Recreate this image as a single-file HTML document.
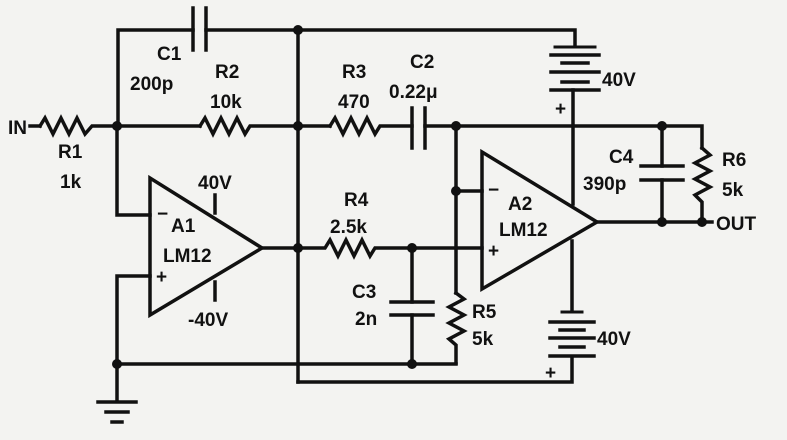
<!DOCTYPE html>
<html><head><meta charset="utf-8"><style>
html,body{margin:0;padding:0;background:#f3f3f1;}
svg{display:block}
text{font-family:"Liberation Sans",sans-serif;font-weight:bold;font-size:19px;fill:#111}
</style></head><body>
<svg width="787" height="440" viewBox="0 0 787 440" xmlns="http://www.w3.org/2000/svg">
<rect width="787" height="440" fill="#f3f3f1"/>
<g stroke="#111" stroke-width="3.5" fill="none" stroke-linejoin="miter" stroke-linecap="square">
<polyline points="118,126 118,30 193,30"/>
<line x1="193" y1="8" x2="193" y2="50"/>
<line x1="206" y1="8" x2="206" y2="50"/>
<polyline points="206,30 575,30 575,46"/>
<line x1="555" y1="47" x2="595" y2="47" stroke-width="3"/>
<line x1="551" y1="55" x2="599" y2="55"/>
<line x1="562" y1="63" x2="588" y2="63"/>
<line x1="551" y1="72" x2="599" y2="72"/>
<line x1="562" y1="82" x2="588" y2="82"/>
<line x1="551" y1="90" x2="599" y2="90"/>
<line x1="573" y1="90" x2="573" y2="204"/>
<line x1="30" y1="126" x2="40" y2="126"/>
<polyline points="40,126 45,118 53,134 61,118 69,134 77,118 85,134 92,126 118,126 200,126"/>
<polyline points="200,126 205,118 213,134 221,118 229,134 237,118 245,134 250,126 330,126"/>
<polyline points="330,126 335,118 343,134 351,118 359,134 367,118 375,134 380,126 412,126"/>
<line x1="412" y1="108" x2="412" y2="148"/>
<line x1="425" y1="108" x2="425" y2="148"/>
<polyline points="425,126 702,126 702,148"/>
<polyline points="702,148 710,155 695,163 710,171 695,179 710,187 695,195 702,202 702,222"/>
<line x1="298" y1="30" x2="298" y2="382"/>
<polyline points="298,382 572,382 572,357"/>
<polygon points="150,178 150,315 262,248"/>
<polyline points="117,126 117,215 150,215"/>
<polyline points="150,276 117,276 117,400"/>
<line x1="215" y1="195" x2="215" y2="213"/>
<line x1="215" y1="282" x2="215" y2="300"/>
<polyline points="262,248 325,248 330,240 338,256 346,240 354,256 362,240 370,256 375,248 482,248"/>
<polygon points="482,152 482,289 597,222"/>
<polyline points="456,126 456,191 482,191"/>
<line x1="456" y1="191" x2="456" y2="293"/>
<polyline points="456,293 464,299 449,307 464,315 449,323 464,331 449,339 456,345 456,363"/>
<line x1="117" y1="364" x2="456" y2="364"/>
<line x1="412" y1="248" x2="412" y2="302"/>
<line x1="391" y1="302" x2="433" y2="302"/>
<line x1="391" y1="315" x2="433" y2="315"/>
<line x1="412" y1="315" x2="412" y2="364"/>
<line x1="572" y1="241" x2="572" y2="311"/>
<line x1="562" y1="312" x2="582" y2="312" stroke-width="3"/>
<line x1="550" y1="322" x2="594" y2="322"/>
<line x1="560" y1="330" x2="584" y2="330"/>
<line x1="550" y1="338" x2="594" y2="338"/>
<line x1="560" y1="347" x2="584" y2="347"/>
<line x1="550" y1="356" x2="594" y2="356"/>
<line x1="597" y1="222" x2="712" y2="222"/>
<line x1="662" y1="126" x2="662" y2="166"/>
<line x1="641" y1="166" x2="683" y2="166"/>
<line x1="641" y1="180" x2="683" y2="180"/>
<line x1="662" y1="180" x2="662" y2="222"/>
<line x1="98" y1="402" x2="136" y2="402"/>
<line x1="106" y1="412" x2="128" y2="412"/>
<line x1="112" y1="422" x2="122" y2="422"/>
</g>
<g fill="#111">
<circle cx="117" cy="126" r="5"/><circle cx="298" cy="30" r="5"/><circle cx="298" cy="126" r="5"/>
<circle cx="456" cy="126" r="5"/><circle cx="662" cy="126" r="5"/><circle cx="456" cy="191" r="5"/>
<circle cx="298" cy="248" r="5"/><circle cx="412" cy="248" r="5"/><circle cx="117" cy="364" r="5"/>
<circle cx="412" cy="364" r="5"/><circle cx="662" cy="222" r="5"/><circle cx="702" cy="222" r="5"/>
</g>
<text x="8" y="134">IN</text>
<text x="157" y="60">C1</text>
<text x="130" y="90">200p</text>
<text x="215" y="78">R2</text>
<text x="210" y="108">10k</text>
<text x="342" y="78">R3</text>
<text x="338" y="108">470</text>
<text x="410" y="68">C2</text>
<text x="389" y="98">0.22μ</text>
<text x="58" y="158">R1</text>
<text x="60" y="188">1k</text>
<text x="198" y="189">40V</text>
<text x="157" y="220">−</text>
<text x="171" y="232">A1</text>
<text x="163" y="262">LM12</text>
<text x="156" y="283">+</text>
<text x="188" y="326">-40V</text>
<text x="344" y="206">R4</text>
<text x="330" y="233">2.5k</text>
<text x="352" y="298">C3</text>
<text x="355" y="325">2n</text>
<text x="472" y="318">R5</text>
<text x="472" y="345">5k</text>
<text x="602" y="86">40V</text>
<text x="555" y="115">+</text>
<text x="488" y="196">−</text>
<text x="508" y="210">A2</text>
<text x="499" y="236">LM12</text>
<text x="488" y="257">+</text>
<text x="609" y="163">C4</text>
<text x="583" y="190">390p</text>
<text x="722" y="166">R6</text>
<text x="722" y="196">5k</text>
<text x="716" y="230">OUT</text>
<text x="597" y="345">40V</text>
<text x="545" y="379">+</text>
</svg>
</body></html>
